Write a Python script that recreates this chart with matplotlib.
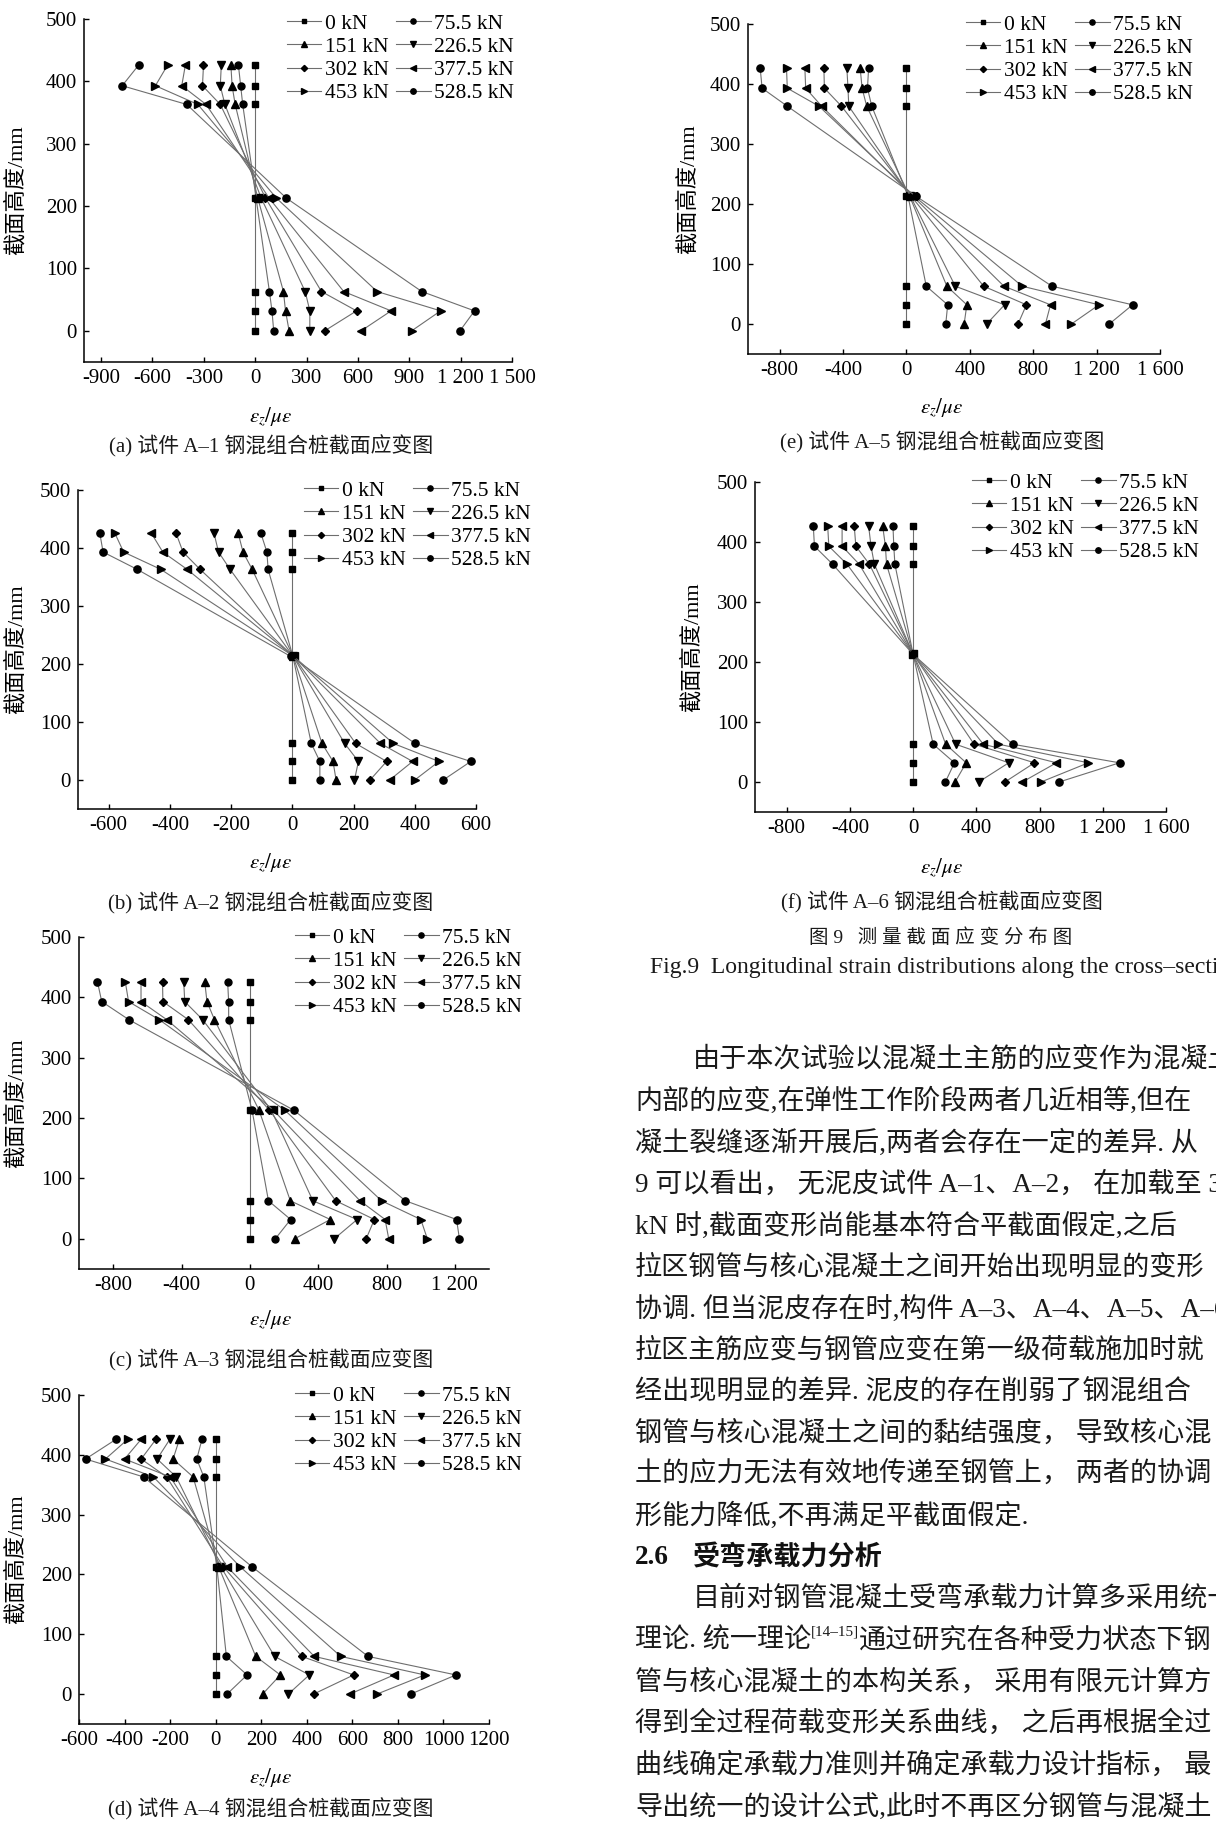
import matplotlib
matplotlib.use('Agg')
import matplotlib.pyplot as plt

plt.rcParams['font.family'] = ['Liberation Serif', 'Noto Sans CJK SC']
plt.rcParams['mathtext.fontset'] = 'stix'

W, H = 1216, 1822

# section heights of the gauges (mm)
heights = [0, 32, 63, 213, 363, 393, 426]
loads = ['0 kN', '75.5 kN', '151 kN', '226.5 kN', '302 kN', '377.5 kN', '453 kN', '528.5 kN']

# strain (micro-strain) per load step, ordered like heights
strain_a1 = [[0, 0, 0, 0, 0, 0, 0],
             [108, 98, 83, 5, -73, -85, -98],
             [198, 177, 165, 15, -117, -135, -142],
             [319, 319, 292, 35, -177, -204, -198],
             [406, 592, 387, 60, -204, -308, -302],
             [619, 794, 517, 81, -287, -429, -408],
             [914, 1083, 712, 123, -335, -583, -512],
             [1196, 1281, 973, 181, -400, -777, -681]]
strain_a2 = [[0, 0, 0, 0, 0, 0, 0],
             [90, 90, 62, 2, -79, -83, -103],
             [143, 133, 97, 3, -131, -161, -177],
             [203, 216, 171, 3, -203, -241, -256],
             [254, 308, 207, 4, -301, -357, -380],
             [318, 393, 288, 4, -343, -423, -461],
             [400, 479, 330, 5, -429, -551, -580],
             [493, 583, 401, -5, -506, -618, -629]]
strain_a3 = [[0, 0, 0, 0, 0, 0, 0],
             [149, 239, 109, 13, -124, -124, -130],
             [262, 471, 237, 54, -207, -251, -264],
             [494, 628, 369, 126, -276, -381, -387],
             [681, 729, 503, 115, -360, -509, -511],
             [813, 792, 645, 138, -486, -637, -637],
             [1039, 1001, 771, 205, -530, -710, -729],
             [1227, 1210, 911, 258, -708, -867, -892]]
strain_a4 = [[0, 0, 0, 0, 0, 0, 0],
             [50, 138, 47, 5, -52, -83, -60],
             [206, 284, 176, 13, -99, -187, -159],
             [319, 411, 259, 22, -173, -257, -201],
             [430, 606, 378, 33, -215, -327, -262],
             [589, 783, 433, 50, -199, -400, -327],
             [708, 918, 549, 107, -273, -484, -386],
             [856, 1055, 669, 159, -316, -571, -437]]
strain_a5 = [[0, 0, 0, 0, 0, 0, 0],
             [248, 260, 125, 10, -219, -246, -239],
             [364, 381, 255, 20, -251, -280, -292],
             [506, 619, 308, 25, -364, -369, -376],
             [704, 757, 487, 30, -410, -518, -521],
             [877, 909, 615, 40, -535, -636, -641],
             [1041, 1215, 730, 50, -552, -752, -757],
             [1280, 1427, 918, 60, -752, -911, -923]]
strain_a6 = [[0, 0, 0, 0, 0, 0, 0],
             [204, 262, 127, 0, -115, -122, -127],
             [266, 336, 206, 0, -168, -175, -192],
             [415, 605, 269, 0, -245, -266, -281],
             [581, 768, 386, 0, -276, -362, -372],
             [691, 907, 444, 0, -341, -449, -449],
             [809, 1109, 540, 0, -418, -533, -540],
             [924, 1306, 629, 0, -509, -624, -631]]

xticks_a1 = [-900, -600, -300, 0, 300, 600, 900, 1200, 1500]
xlabels_a1 = ['-900', '-600', '-300', '0', '300', '600', '900', '1 200', '1 500']
xticks_a2 = [-600, -400, -200, 0, 200, 400, 600]
xlabels_a2 = ['-600', '-400', '-200', '0', '200', '400', '600']
xticks_a3 = [-800, -400, 0, 400, 800, 1200]
xlabels_a3 = ['-800', '-400', '0', '400', '800', '1 200']
xticks_a4 = [-600, -400, -200, 0, 200, 400, 600, 800, 1000, 1200]
xlabels_a4 = ['-600', '-400', '-200', '0', '200', '400', '600', '800', '1000', '1200']
xticks_a56 = [-800, -400, 0, 400, 800, 1200, 1600]
xlabels_a56 = ['-800', '-400', '0', '400', '800', '1 200', '1 600']
yticks = [0, 100, 200, 300, 400, 500]

captions = ['(a) 试件 A–1 钢混组合桩截面应变图', '(b) 试件 A–2 钢混组合桩截面应变图',
            '(c) 试件 A–3 钢混组合桩截面应变图', '(d) 试件 A–4 钢混组合桩截面应变图',
            '(e) 试件 A–5 钢混组合桩截面应变图', '(f) 试件 A–6 钢混组合桩截面应变图']

# layout in pixels: axes box (l, t, r, b), xlim, legend (x, row1 y), ylabel x, xlabel/caption x, xlabel y, caption y
layout = [
    ((84, 19, 512, 362), (-1000, 1500), (287, 23), 16, 271, 417, 446),
    ((78, 490, 476, 809), (-700, 600), (304, 490), 16, 271, 863, 903),
    ((79, 937, 489, 1269), (-1000, 1400), (295, 937), 16, 271, 1320, 1360),
    ((79, 1395, 489, 1724), (-600, 1200), (295, 1395), 16, 271, 1778, 1809),
    ((748, 24, 1160, 354), (-1000, 1600), (966, 24), 688, 942, 408, 442),
    ((755, 482, 1166, 812), (-1000, 1600), (972, 482), 692, 942, 868, 902),
]
data = [(strain_a1, xticks_a1, xlabels_a1), (strain_a2, xticks_a2, xlabels_a2),
        (strain_a3, xticks_a3, xlabels_a3), (strain_a4, xticks_a4, xlabels_a4),
        (strain_a5, xticks_a56, xlabels_a56), (strain_a6, xticks_a56, xlabels_a56)]

markers = ['s', 'o', '^', 'v', 'D', '<', '>', 'o']
msizes = [4.5, 5, 5.5, 5.5, 4.2, 5.5, 5.5, 5.2]
row_order = [0, 2, 4, 6, 1, 3, 5, 7]  # legend fills row by row

fig = plt.figure(figsize=(W / 100, H / 100), dpi=100)


def ftext(x, y, s, **kw):
    return fig.text(x / W, 1 - y / H, s, **kw)


for (strain, xt, xl), lay, cap in zip(data, layout, captions):
    (l, t, r, b), xlim, (lgx, lgy), ylx, cx, xly, capy = lay
    ax = fig.add_axes([l / W, 1 - b / H, (r - l) / W, (b - t) / H])
    for vals, lab, m, ms in zip(strain, loads, markers, msizes):
        ax.plot(vals, heights, color='#6e6e6e', lw=0.8, marker=m, ms=ms,
                mfc='black', mec='black', label=lab)
    ax.set_xlim(*xlim)
    ax.set_ylim(-50, 500)
    ax.set_xticks(xt)
    ax.set_xticklabels(xl)
    ax.set_yticks(yticks)
    ax.set_yticklabels([str(v) for v in yticks])
    for s in ['top', 'right']:
        ax.spines[s].set_visible(False)
    for s in ['left', 'bottom']:
        ax.spines[s].set_linewidth(1.1)
    ax.tick_params(direction='in', length=3.6, width=1, labelsize=15, pad=5)
    hs, ls = ax.get_legend_handles_labels()
    ax.legend([hs[i] for i in row_order], [ls[i] for i in row_order],
              loc='upper left', bbox_to_anchor=(lgx / W, 1 - (lgy - 9.5) / H),
              bbox_transform=fig.transFigure, ncol=2, frameon=False, fontsize=15.5,
              borderpad=0, borderaxespad=0, handlelength=1.6, handletextpad=0.15,
              columnspacing=0.35, labelspacing=0.15, markerscale=0.75)
    ftext(ylx, (t + b) / 2, '截面高度/mm', rotation=90, fontsize=16, ha='center', va='center')
    ftext(cx, xly, r'$\varepsilon_z/\mu\varepsilon$', fontsize=15, ha='center', va='center')
    ftext(cx, capy, cap, fontsize=15, ha='center', va='center', color='#1a1a1a')

# figure title lines
ftext(941, 938, '图 9   测 量 截 面 应 变 分 布 图', fontsize=14, ha='center', va='center', color='#1a1a1a')
ftext(650, 968, 'Fig.9  Longitudinal strain distributions along the cross–sections',
      fontsize=17, ha='left', va='center', color='#1a1a1a')

# body text
body = ['由于本次试验以混凝土主筋的应变作为混凝土',
        '内部的应变,在弹性工作阶段两者几近相等,但在',
        '凝土裂缝逐渐开展后,两者会存在一定的差异. 从',
        '9 可以看出， 无泥皮试件 A–1、A–2， 在加载至 3',
        'kN 时,截面变形尚能基本符合平截面假定,之后',
        '拉区钢管与核心混凝土之间开始出现明显的变形',
        '协调. 但当泥皮存在时,构件 A–3、A–4、A–5、A–6',
        '拉区主筋应变与钢管应变在第一级荷载施加时就',
        '经出现明显的差异. 泥皮的存在削弱了钢混组合',
        '钢管与核心混凝土之间的黏结强度， 导致核心混',
        '土的应力无法有效地传递至钢管上， 两者的协调',
        '形能力降低,不再满足平截面假定.',
        None,
        '目前对钢管混凝土受弯承载力计算多采用统一',
        None,
        '管与核心混凝土的本构关系， 采用有限元计算方',
        '得到全过程荷载变形关系曲线， 之后再根据全过',
        '曲线确定承载力准则并确定承载力设计指标， 最',
        '导出统一的设计公式,此时不再区分钢管与混凝土']
indented = {0, 13}
y0, dy = 1060, 41.5
bfs = 19.5
for i, line in enumerate(body):
    y = y0 + i * dy
    if line is None:
        continue
    x = 693 if i in indented else 635
    ftext(x, y, line, fontsize=bfs, ha='left', va='center', color='#1a1a1a')

# section heading
yh = y0 + 12 * dy
ftext(635, yh, '2.6', fontsize=bfs, fontweight='bold', ha='left', va='center', color='#111111')
ftext(693, yh, '受弯承载力分析', fontsize=bfs, fontweight='bold', ha='left', va='center', color='#111111')

# line with superscript reference
ys = y0 + 14 * dy
renderer = fig.canvas.get_renderer()
t1 = ftext(635, ys, '理论. 统一理论', fontsize=bfs, ha='left', va='center', color='#1a1a1a')
x1 = t1.get_window_extent(renderer).x1
t2 = ftext(x1, ys - 9, '[14–15]', fontsize=11, ha='left', va='center', color='#1a1a1a')
x2 = t2.get_window_extent(renderer).x1
ftext(x2, ys, '通过研究在各种受力状态下钢', fontsize=bfs, ha='left', va='center', color='#1a1a1a')

fig.savefig('out.png', dpi=100)
